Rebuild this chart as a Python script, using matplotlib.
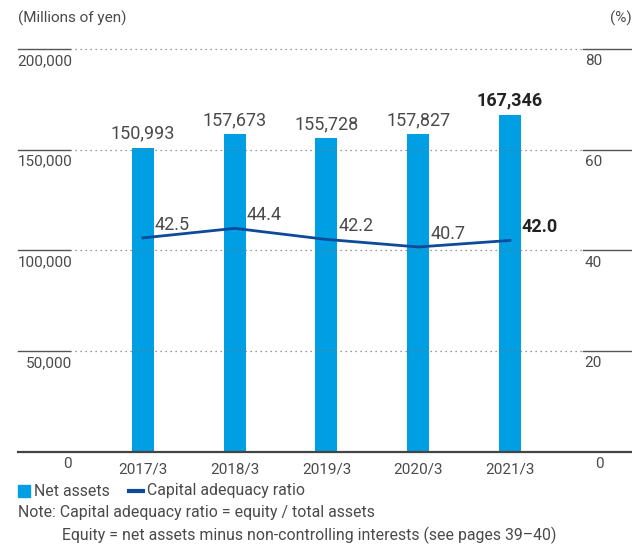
import numpy as np
import matplotlib
matplotlib.use('Agg')
from matplotlib import pyplot as plt

years = ['2017/3', '2018/3', '2019/3', '2020/3', '2021/3']
net_assets = [150993, 157673, 155728, 157827, 167346]
ratio = [42.5, 44.4, 42.2, 40.7, 42.0]
left_ticks = [50000, 100000, 150000, 200000]
right_ticks = [20, 40, 60, 80]

plt.rcParams['font.family'] = ['Roboto', 'DejaVu Sans']

txt = '#4a4a4a'
bar_col = '#009FE3'
line_col = '#0E4A9A'

fig = plt.figure(figsize=(6.32, 5.46), dpi=100)
ax = fig.add_axes([18/632, 94/546, 614/632, 403/546])
x = np.arange(len(years))
ax.set_xlim(-1.362, 5.33)
ax.set_ylim(0, 200000)
ax.bar(x, net_assets, width=0.24, color=bar_col, zorder=2)

ax2 = ax.twinx()
ax2.set_ylim(0, 80)
ax2.plot(x, ratio, color=line_col, lw=2, zorder=3)

for a in (ax, ax2):
    for s in a.spines.values():
        s.set_visible(False)
    a.set_xticks([])
    a.set_yticks([])

# gridlines: solid stubs at both ends, dotted across the middle
tr = ax.get_yaxis_transform()
for v in left_ticks:
    ax.plot([0, 0.0847], [v, v], color='#555555', lw=1, transform=tr, clip_on=False)
    ax.plot([0.0847, 0.92], [v, v], color='#777777', lw=0.9, ls=(0, (1, 3)),
            transform=tr, clip_on=False)
    ax.plot([0.92, 1], [v, v], color='#555555', lw=1, transform=tr, clip_on=False)
    ax.text(0.088, v - 2500, f'{v:,}', transform=tr, ha='right', va='top',
            fontsize=11, color=txt)
for v in right_ticks:
    ax2.text(0.923, v - 1.0, f'{v}', transform=ax2.get_yaxis_transform(),
             ha='left', va='top', fontsize=11, color=txt)
ax.plot([0, 1], [0, 0], color='#444444', lw=1.6, transform=tr, clip_on=False, zorder=4)
ax.text(0.088, -2500, '0', transform=tr, ha='right', va='top', fontsize=11, color=txt)
ax.text(0.94, -2500, '0', transform=tr, ha='left', va='top', fontsize=11, color=txt)

for i, yl in enumerate(years):
    ax.text(x[i], -5000, yl, ha='center', va='top', fontsize=11, color=txt)

# value labels
for i, v in enumerate(net_assets):
    last = i == len(net_assets) - 1
    ax.text(x[i], v + 2500, f'{v:,}', ha='center', va='bottom', fontsize=13,
            color='#222222' if last else txt, fontweight='bold' if last else 'normal')
for i, v in enumerate(ratio):
    last = i == len(ratio) - 1
    ax2.text(x[i] + 0.13, v + 0.8, f'{v:.1f}', ha='left', va='bottom', fontsize=13,
             color='#222222' if last else txt, fontweight='bold' if last else 'normal')

fig.text(18/632, 1 - 18/546, '(Millions of yen)', ha='left', va='center', fontsize=11, color=txt)
fig.text(1.0, 1 - 18/546, '(%)', ha='right', va='center', fontsize=11, color=txt)

# legend and notes
fs = 11.4
fig.patches.append(plt.Rectangle((18/632, 1 - 497/546), 12/632, 12/546,
                                 transform=fig.transFigure, color=bar_col))
fig.text(34/632, 1 - 491/546, 'Net assets', ha='left', va='center', fontsize=fs, color=txt)
fig.lines.append(plt.Line2D([129/632, 143/632], [1 - 491/546, 1 - 491/546],
                            transform=fig.transFigure, color=line_col, lw=3))
fig.text(147/632, 1 - 491/546, 'Capital adequacy ratio', ha='left', va='center',
         fontsize=fs, color=txt)
fig.text(18/632, 1 - 513/546, 'Note: Capital adequacy ratio = equity / total assets',
         ha='left', va='center', fontsize=fs, color=txt)
fig.text(62/632, 1 - 535/546,
         'Equity = net assets minus non-controlling interests (see pages 39\u201340)',
         ha='left', va='center', fontsize=fs, color=txt)

plt.savefig('out.png', dpi=100)
